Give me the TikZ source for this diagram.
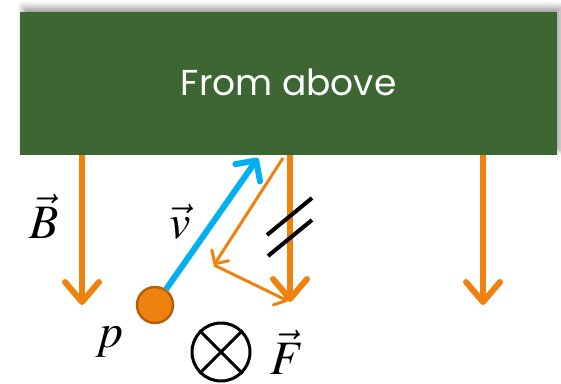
\documentclass[tikz,border=0pt]{standalone}
\usepackage{mathptmx}
\usepackage{fontspec}
\setsansfont{Poppins}
\usetikzlibrary{arrows.meta,shadows.blur}
\definecolor{fieldorange}{HTML}{EF820E}
\definecolor{bannergreen}{HTML}{3D6632}
\definecolor{speedblue}{HTML}{00B0F0}
\definecolor{rimbrown}{HTML}{B5600C}
\begin{document}
\begin{tikzpicture}[x=1pt,y=-1pt,
      banner/.style={
        % The shape:
        rectangle,minimum width=537pt,minimum height=143pt,anchor=north west,
        % The rest
        fill=bannergreen,text=white,
        blur shadow={shadow xshift=3pt,shadow yshift=5pt,shadow blur radius=6pt,shadow blur steps=8},
        font=\sffamily\fontsize{36}{40}\selectfont},
      field/.style={line width=6pt,draw=fieldorange,
        -{Straight Barb[length=20pt,width=34pt,round]}},
      thinforce/.style={line width=3pt,draw=fieldorange,
        -{Straight Barb[length=10pt,width=20pt,round]}},
      velocity/.style={line width=6pt,draw=speedblue,
        -{Straight Barb[length=15pt,width=30pt,round]}},
      hatch/.style={line width=4pt,draw=black},
      symbol/.style={font=\fontsize{48}{52}\selectfont}]
    \useasboundingbox (0,0) rectangle (561,383);
    \node(above)[banner] at (20,12) {\raisebox{4pt}{From above}};
    % field lines
    \coordinate(b1) at (82,155);
    \coordinate(b1end) at (82,305);
    \path (b1) edge[field] (b1end);
    \coordinate(b2) at (290,155);
    \coordinate(b2end) at (290,302);
    \path (b2) edge[field] (b2end);
    \coordinate(b3) at (483,155);
    \coordinate(b3end) at (483,305);
    \path (b3) edge[field] (b3end);
    % particle and its speed
    \node(p)[circle,minimum size=36pt,inner sep=0pt,fill=fieldorange,draw=rimbrown,line width=2.5pt] at (155,305) {};
    \coordinate(vtip) at (258,158);
    \path (p) edge[velocity] (vtip);
    % force construction
    \coordinate(f0) at (283,158);
    \coordinate(f1) at (214,265);
    \coordinate(f2) at (288,301);
    \path (f0) edge[thinforce] (f1);
    \path (f1) edge[thinforce] (f2);
    \coordinate(h1a) at (267,235);
    \coordinate(h1b) at (312,198);
    \path (h1a) edge[hatch] (h1b);
    \coordinate(h2a) at (268,256);
    \coordinate(h2b) at (312,220);
    \path (h2a) edge[hatch] (h2b);
    % labels
    \node(blabel)[symbol] at (44,216) {$\vec{B}$};
    \node(vlabel)[symbol] at (180,222) {$\vec{v}$};
    \node(plabel)[symbol] at (110,342) {$p$};
    \node(into)[circle,minimum size=58pt,inner sep=0pt,draw,line width=3pt] at (221,352) {};
    \draw[line width=3pt] (into.north west) -- (into.south east);
    \draw[line width=3pt] (into.north east) -- (into.south west);
    \node(flabel)[symbol] at (287,352) {$\vec{F}$};
  \end{tikzpicture}
\end{document}
